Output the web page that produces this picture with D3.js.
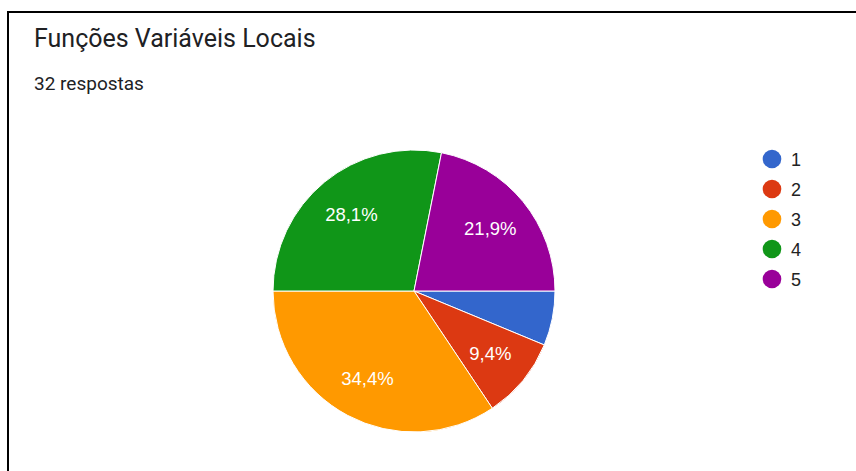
<!DOCTYPE html>
<html>
<head>
<meta charset="utf-8">
<script src="https://cdn.jsdelivr.net/npm/d3@7"></script>
<style>
  body { margin: 0; background: #fff; }
  svg { display: block; }
</style>
</head>
<body>
<div id="chart"></div>
<script>
let title = "Funções Variáveis Locais";
let subtitle = "32 respostas";
let categories = ["1", "2", "3", "4", "5"];
let counts = [2, 3, 11, 9, 7];
let colors = ["#3366cc", "#dc3912", "#ff9900", "#109618", "#990099"];

let width = 856;
let height = 471;
let center = {x: 414, y: 291};
let radius = 141;

let svg = d3.select("#chart")
    .append("svg")
    .attr("width", width)
    .attr("height", height);

// card border (cropped on the right and bottom)
svg.append("rect")
    .attr("x", 8)
    .attr("y", 12)
    .attr("width", 900)
    .attr("height", 500)
    .attr("fill", "none")
    .attr("stroke", "#000")
    .attr("stroke-width", 2);

svg.append("text")
    .attr("x", 34)
    .attr("y", 47)
    .attr("font-family", "Roboto")
    .attr("font-size", 25)
    .attr("fill", "#202124")
    .text(title);

svg.append("text")
    .attr("x", 34)
    .attr("y", 90)
    .attr("font-family", "Roboto")
    .attr("font-size", 19)
    .attr("fill", "#202124")
    .text(subtitle);

let total = d3.sum(counts);
let data = categories.map((c, i) => ({key: c, value: counts[i], color: colors[i]}));

let pie = d3.pie()
    .value(d => d.value)
    .sort(null)
    .startAngle(Math.PI / 2)
    .endAngle(Math.PI / 2 + 2 * Math.PI);

let arc = d3.arc().innerRadius(0).outerRadius(radius);
let labelArc = d3.arc().innerRadius(radius * 0.7).outerRadius(radius * 0.7);

let pieG = svg.append("g")
    .attr("transform", "translate(" + center.x + "," + center.y + ")");

let slices = pieG.selectAll("g.slice")
    .data(pie(data))
    .enter()
    .append("g")
    .attr("class", "slice");

slices.append("path")
    .attr("d", arc)
    .attr("fill", d => d.data.color)
    .attr("stroke", "#fff")
    .attr("stroke-width", 1);

let fmt = v => (v / total * 100).toFixed(1).replace(".", ",") + "%";

slices.filter(d => d.data.value / total > 0.07)
    .append("text")
    .attr("transform", d => "translate(" + labelArc.centroid(d) + ")")
    .attr("text-anchor", "middle")
    .attr("dy", "0.36em")
    .attr("font-family", "Arial, 'Liberation Sans'")
    .attr("font-size", 18.5)
    .attr("fill", "#fff")
    .text(d => fmt(d.data.value));

// legend
let legend = svg.selectAll("g.legend")
    .data(data)
    .enter()
    .append("g")
    .attr("class", "legend")
    .attr("transform", (d, i) => "translate(772," + (159 + i * 30) + ")");

legend.append("circle")
    .attr("r", 9.3)
    .attr("fill", d => d.color);

legend.append("text")
    .attr("x", 19)
    .attr("y", 6.5)
    .attr("font-family", "Arial, 'Liberation Sans'")
    .attr("font-size", 18)
    .attr("fill", "#222")
    .text(d => d.key);
</script>
</body>
</html>
